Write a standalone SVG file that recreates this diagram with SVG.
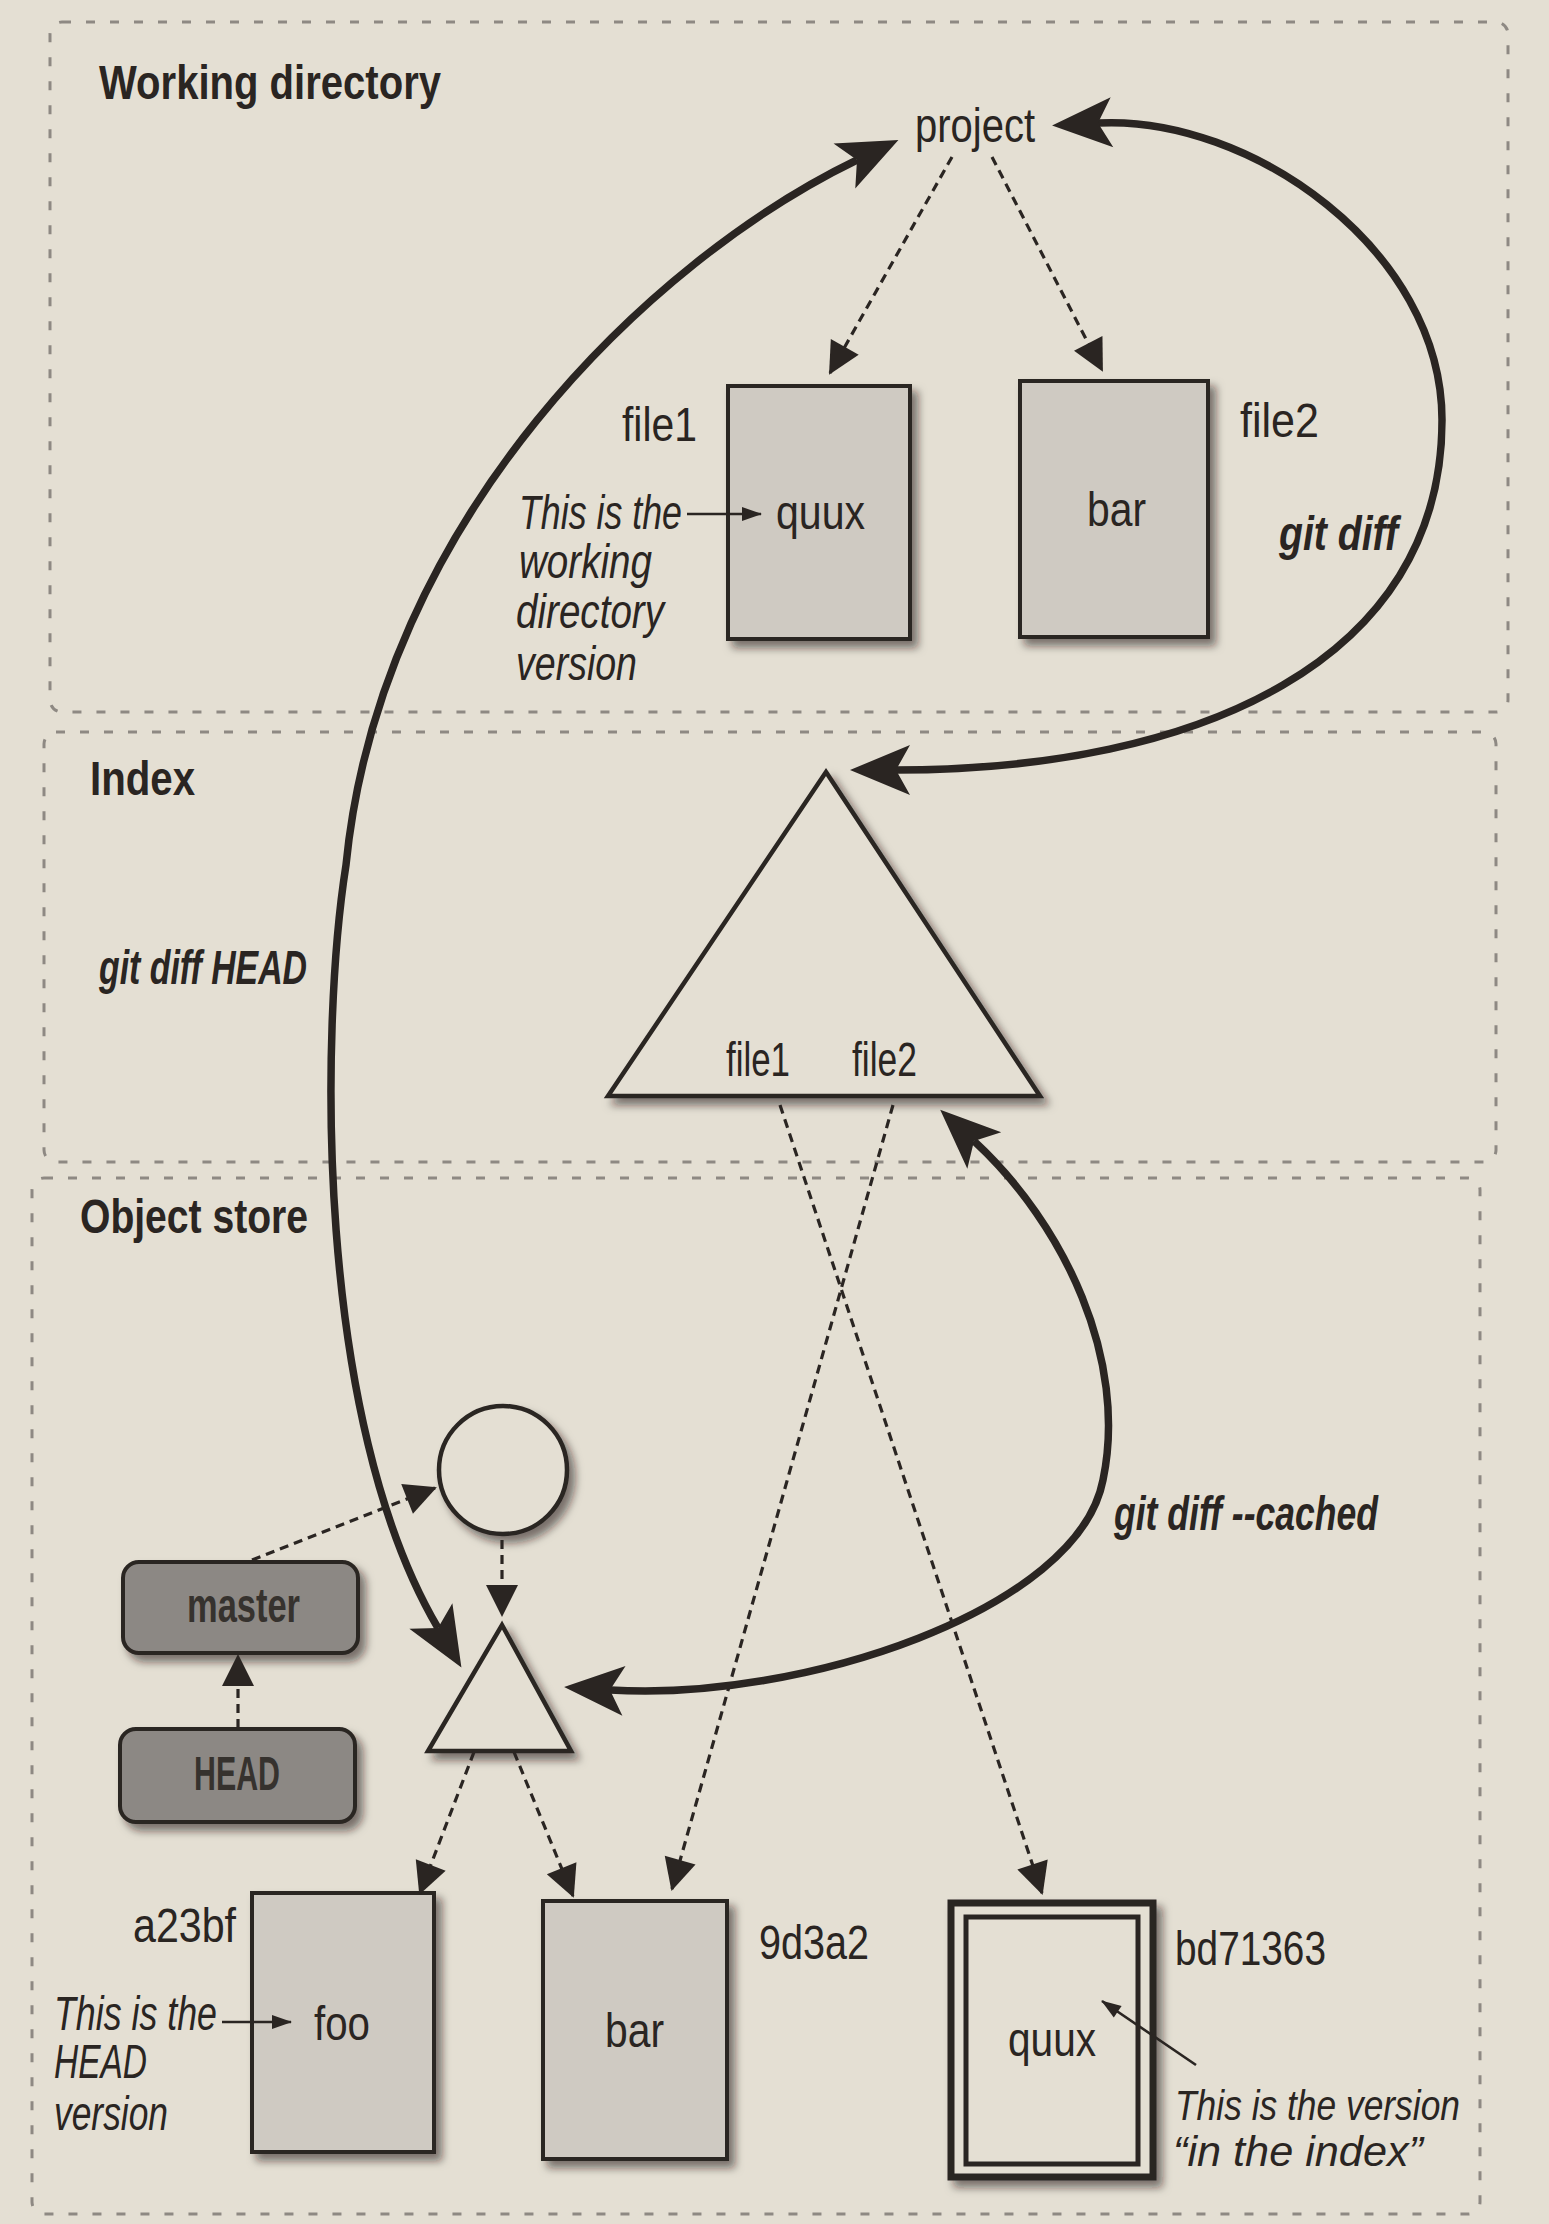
<svg xmlns="http://www.w3.org/2000/svg" width="1549" height="2224" viewBox="0 0 1549 2224">
<defs>
<style>
.t{font-family:'Liberation Sans Narrow','Liberation Sans',Arial,sans-serif;font-size:48px;fill:#2a2522}
.b{font-weight:bold}
.i{font-style:italic}
.sm{font-size:43px}
.panel{fill:none;stroke:#8e8983;stroke-width:3;stroke-dasharray:9 15}
.box{fill:#cfcac2;stroke:#2a2522;stroke-width:4;filter:url(#sh)}
.shape{fill:#e4dfd3;stroke:#2a2522;stroke-width:4.5;filter:url(#sh)}
.ref{fill:#8c8884;stroke:#2a2522;stroke-width:4;filter:url(#sh)}
.dash{fill:none;stroke:#2a2522;stroke-width:3.2;stroke-dasharray:9 6;marker-end:url(#dh)}
.thick{fill:none;stroke:#2a2522;stroke-width:7.5;marker-start:url(#th);marker-end:url(#th)}
.thin{fill:none;stroke:#2a2522;stroke-width:2.6;marker-end:url(#sm)}
</style>
<filter id="sh" x="-20%" y="-20%" width="150%" height="150%">
<feDropShadow dx="6" dy="7" stdDeviation="4.5" flood-color="#1a1512" flood-opacity="0.55"/>
</filter>
<marker id="th" markerUnits="userSpaceOnUse" viewBox="-2 -28 66 56" markerWidth="66" markerHeight="56" refX="14" refY="0" orient="auto-start-reverse">
<path d="M0,-25 L60,0 L0,25 L14,0 Z" fill="#2a2522"/>
</marker>
<marker id="dh" markerUnits="userSpaceOnUse" viewBox="-1 -17 34 34" markerWidth="34" markerHeight="34" refX="30" refY="0" orient="auto">
<path d="M0,-16 L32,0 L0,16 Z" fill="#2a2522"/>
</marker>
<marker id="sm" markerUnits="userSpaceOnUse" viewBox="-1 -9 22 18" markerWidth="22" markerHeight="18" refX="19" refY="0" orient="auto">
<path d="M0,-7 L20,0 L0,7 Z" fill="#2a2522"/>
</marker>
</defs>
<rect x="0" y="0" width="1549" height="2224" fill="#e4dfd3"/>

<g id="panel-working-directory">
<rect class="panel" x="50" y="22" width="1458" height="690" rx="12"/>
<text class="t b" x="99" y="99" textLength="342" lengthAdjust="spacingAndGlyphs">Working directory</text>
</g>
<g id="panel-index">
<rect class="panel" x="44" y="732" width="1452" height="430" rx="12"/>
<text class="t b" x="90" y="795" textLength="105" lengthAdjust="spacingAndGlyphs">Index</text>
</g>
<g id="panel-object-store">
<rect class="panel" x="32" y="1178" width="1448" height="1036" rx="12"/>
<text class="t b" x="80" y="1233" textLength="228" lengthAdjust="spacingAndGlyphs">Object store</text>
</g>

<g id="project">
<text class="t" x="915" y="142" textLength="120" lengthAdjust="spacingAndGlyphs">project</text>
</g>
<g id="wd-file1">
<rect class="box" x="728" y="386" width="182" height="253"/>
<text class="t" x="622" y="441" textLength="75" lengthAdjust="spacingAndGlyphs">file1</text>
<text class="t" x="776" y="529" textLength="89" lengthAdjust="spacingAndGlyphs">quux</text>
</g>
<g id="wd-file2">
<rect class="box" x="1020" y="381" width="188" height="256"/>
<text class="t" x="1240" y="437" textLength="79" lengthAdjust="spacingAndGlyphs">file2</text>
<text class="t" x="1087" y="526" textLength="59" lengthAdjust="spacingAndGlyphs">bar</text>
</g>
<g id="wd-note">
<text class="t i" x="519" y="529" textLength="163" lengthAdjust="spacingAndGlyphs">This is the</text>
<text class="t i" x="519" y="578" textLength="133" lengthAdjust="spacingAndGlyphs">working</text>
<text class="t i" x="516" y="628" textLength="148" lengthAdjust="spacingAndGlyphs">directory</text>
<text class="t i" x="516" y="680" textLength="121" lengthAdjust="spacingAndGlyphs">version</text>
</g>

<g id="index-tree">
<polygon class="shape" points="826,772 1040,1096 608,1096"/>
<text class="t" x="726" y="1076" textLength="64" lengthAdjust="spacingAndGlyphs">file1</text>
<text class="t" x="852" y="1076" textLength="65" lengthAdjust="spacingAndGlyphs">file2</text>
</g>

<g id="commit">
<circle class="shape" cx="503" cy="1470" r="64"/>
</g>
<g id="tree">
<polygon class="shape" points="502,1625 571,1751 428,1751"/>
</g>
<g id="master">
<rect class="ref" x="123" y="1562" width="235" height="91" rx="16"/>
<text class="t b" x="187" y="1622" textLength="113" lengthAdjust="spacingAndGlyphs" style="fill:#36322e">master</text>
</g>
<g id="head">
<rect class="ref" x="120" y="1729" width="235" height="93" rx="16"/>
<text class="t b" x="194" y="1790" textLength="86" lengthAdjust="spacingAndGlyphs" style="fill:#36322e">HEAD</text>
</g>
<g id="blob-foo">
<rect class="box" x="252" y="1893" width="182" height="259"/>
<text class="t" x="133" y="1942" textLength="103" lengthAdjust="spacingAndGlyphs">a23bf</text>
<text class="t" x="314" y="2040" textLength="56" lengthAdjust="spacingAndGlyphs">foo</text>
</g>
<g id="blob-bar">
<rect class="box" x="543" y="1901" width="184" height="258"/>
<text class="t" x="759" y="1959" textLength="110" lengthAdjust="spacingAndGlyphs">9d3a2</text>
<text class="t" x="605" y="2047" textLength="59" lengthAdjust="spacingAndGlyphs">bar</text>
</g>
<g id="blob-quux">
<rect x="951" y="1903" width="202" height="274" fill="#e4dfd3" stroke="#2a2522" stroke-width="7" filter="url(#sh)"/>
<rect x="966" y="1917" width="172" height="247" fill="#e4dfd3" stroke="#2a2522" stroke-width="5"/>
<text class="t" x="1175" y="1965" textLength="151" lengthAdjust="spacingAndGlyphs">bd71363</text>
<text class="t" x="1008" y="2056" textLength="88" lengthAdjust="spacingAndGlyphs">quux</text>
</g>
<g id="head-note">
<text class="t i" x="54" y="2030" textLength="163" lengthAdjust="spacingAndGlyphs">This is the</text>
<text class="t i" x="54" y="2078" textLength="93" lengthAdjust="spacingAndGlyphs">HEAD</text>
<text class="t i" x="54" y="2130" textLength="114" lengthAdjust="spacingAndGlyphs">version</text>
</g>
<g id="index-note">
<text class="t i sm" x="1175" y="2120" textLength="285" lengthAdjust="spacingAndGlyphs">This is the version</text>
<text class="t i sm" x="1173" y="2166" textLength="250" lengthAdjust="spacingAndGlyphs">“in the index”</text>
</g>

<g id="connectors">
<path class="dash" d="M952,157 L830,373"/>
<path class="dash" d="M992,157 L1102,370"/>
<path class="dash" d="M780,1105 L1042,1893"/>
<path class="dash" d="M893,1105 L672,1889"/>
<path class="dash" d="M502,1540 L502,1615"/>
<path class="dash" d="M252,1560 L435,1488"/>
<path class="dash" d="M238,1728 L238,1656"/>
<path class="dash" d="M474,1752 L420,1893"/>
<path class="dash" d="M514,1752 L573,1896"/>
<path class="thick" d="M1098,123 C1250,115 1442,250 1442,420 C1442,660 1200,770 896,770"/>
<path class="thick" d="M857,160 C650,260 380,520 346,865 C320,1030 315,1420 438,1628"/>
<path class="thick" d="M974,1141 C1065,1225 1128,1360 1103,1480 C1078,1610 800,1702 610,1690"/>
<path class="thin" d="M687,514 L761,514"/>
<path class="thin" d="M222,2022 L291,2022"/>
<path class="thin" d="M1196,2065 L1102,2001"/>
<text class="t b i" x="1279" y="550" textLength="119" lengthAdjust="spacingAndGlyphs">git diff</text>
<text class="t b i" x="99" y="984" textLength="208" lengthAdjust="spacingAndGlyphs">git diff HEAD</text>
<text class="t b i" x="1114" y="1530" textLength="264" lengthAdjust="spacingAndGlyphs">git diff --cached</text>
</g>
</svg>
